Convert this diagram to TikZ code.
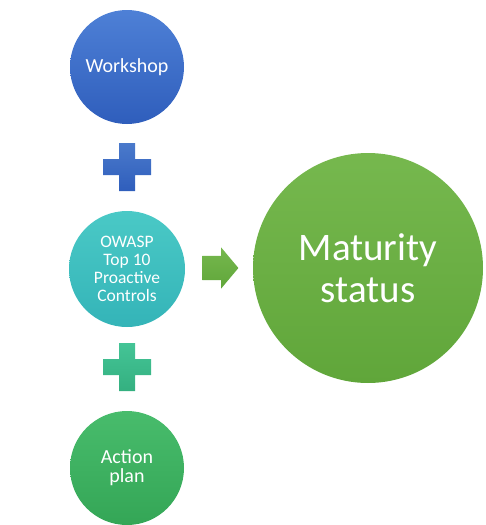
\documentclass[tikz,border=0pt]{standalone}
\usepackage{fontspec}
\setmainfont{Carlito}
\usepackage{tikz}
\usetikzlibrary{calc,shapes.arrows}
\definecolor{blueTop}{RGB}{78,128,214}
\definecolor{blueBot}{RGB}{47,94,188}
\definecolor{tealTop}{RGB}{74,201,198}
\definecolor{tealBot}{RGB}{52,180,184}
\definecolor{mintTop}{RGB}{68,196,150}
\definecolor{mintBot}{RGB}{52,176,128}
\definecolor{greenTop}{RGB}{72,188,108}
\definecolor{greenBot}{RGB}{52,166,86}
\definecolor{limeTop}{RGB}{118,184,78}
\definecolor{limeBot}{RGB}{96,166,58}
\def\plussign[#1](#2){\shade[#1] ($(#2)+(-8,-24)$) -- ++(16,0) -- ++(0,16) -- ++(16,0) -- ++(0,16) -- ++(-16,0) -- ++(0,16) -- ++(-16,0) -- ++(0,-16) -- ++(-16,0) -- ++(0,-16) -- ++(16,0) -- cycle;}
\tikzset{
	bubble/.style={circle, inner sep=0pt, text=white, align=center, font=\fontsize{20}{19}\selectfont},
}

\begin{document}
\begin{tikzpicture}[x=1pt, y=-1pt]
			%%%%% START %%%%%
			
			\useasboundingbox (0, 0) rectangle (485, 525);
			
			\node[bubble, minimum size=114pt, top color=blueTop, bottom color=blueBot] (workshop) at (127, 67) {Workshop};
			
			\plussign[top color=blueTop!95!black, bottom color=blueBot](127, 167);
			
			\node[bubble, minimum size=116pt, font=\fontsize{17.5}{18}\selectfont, top color=tealTop, bottom color=tealBot] (owasp) at (127, 269) {OWASP\\Top 10\\Proactive\\Controls};
			
			\plussign[top color=mintTop, bottom color=mintBot](127, 367);
			
			\node[bubble, minimum size=114pt, top color=greenTop, bottom color=greenBot] (action) at (127, 468) {Action\\plan};
			
			\node[bubble, minimum size=230pt, font=\fontsize{39}{42}\selectfont, top color=limeTop, bottom color=limeBot] (maturity) at (368, 268) {Maturity\\status};
			
			\node[single arrow, anchor=tail, inner xsep=0pt, inner ysep=12pt, minimum height=36pt, single arrow head extend=8.5pt, single arrow tip angle=100, top color=limeTop, bottom color=limeBot] (arrow) at ($(owasp.east)+(17,-1)$) {};
			
			%%%%% END %%%%%
\end{tikzpicture}
\end{document}
